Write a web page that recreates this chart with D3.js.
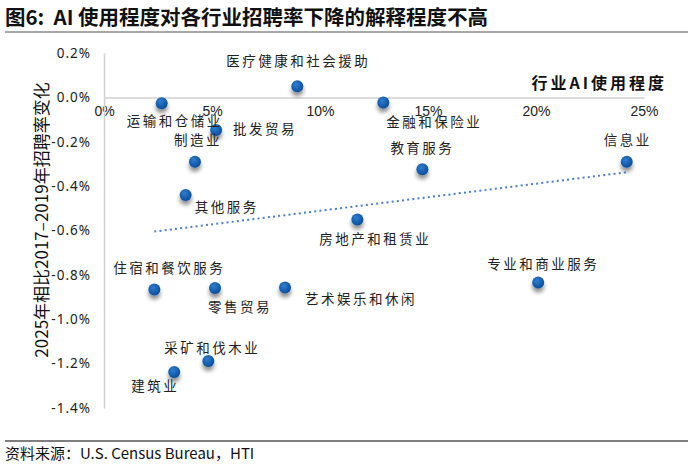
<!DOCTYPE html>
<html><head><meta charset="utf-8">
<script src="https://cdn.jsdelivr.net/npm/d3@7"></script>
<style>
body{margin:0;background:#fff;}
svg{display:block;}
</style></head>
<body>
<svg id="chart" width="692" height="466"></svg>
<script>
// ---- data ----
const industries = ["运输和仓储业","医疗健康和社会援助","金融和保险业","批发贸易","制造业","其他服务","房地产和租赁业","教育服务","信息业","专业和商业服务","住宿和餐饮服务","零售贸易","艺术娱乐和休闲","采矿和伐木业","建筑业"];
const aiUsage = [2.67, 8.95, 12.93, 5.19, 4.21, 3.78, 11.73, 14.74, 24.2, 20.1, 2.33, 5.14, 8.38, 4.83, 3.25];      // %
const hiringChange = [-0.026, 0.05, -0.023, -0.147, -0.29, -0.44, -0.55, -0.324, -0.29, -0.834, -0.866, -0.859, -0.857, -1.188, -1.238]; // %
const xTicks = [0, 5, 10, 15, 20, 25];
const yTicks = [0.2, 0.0, -0.2, -0.4, -0.6, -0.8, -1.0, -1.2, -1.4];
const title = "图6:  AI 使用程度对各行业招聘率下降的解释程度不高";
const xTitle = "行业AI使用程度";
const yTitle = "2025年相比2017–2019年招聘率变化";
const source = "资料来源：U.S. Census Bureau，HTI";

// ---- layout (label offsets relative to points) ----
const labelOffsets = [[13,17],[1,-26],[51,19],[49,-2],[3,-23],[41,11],[18,19],[0,-22],[1,-23],[5,-19],[15,-23],[25,18],[76,10],[4,-14],[-19,13]];

const svg = d3.select("#chart");
const x = d3.scaleLinear().domain([0, 25]).range([104, 644]);
const y = d3.scaleLinear().domain([0.2, -1.4]).range([53, 408]);

// title
svg.append("text").attr("x", 5).attr("y", 25).style("white-space", "pre")
  .attr("font-family", "'Noto Sans CJK SC', sans-serif").attr("font-weight", "bold")
  .attr("font-size", 20.5).attr("fill", "#111").text(title);
svg.append("line").attr("x1", 5).attr("x2", 688).attr("y1", 32).attr("y2", 32)
  .attr("stroke", "#8a8a8a").attr("stroke-width", 1.5);

// defs
const defs = svg.append("defs");
const grad = defs.append("radialGradient").attr("id", "dotg").attr("cx", "40%").attr("cy", "35%").attr("r", "65%");
grad.append("stop").attr("offset", "0%").attr("stop-color", "#2f7dd0");
grad.append("stop").attr("offset", "100%").attr("stop-color", "#0a4e9c");
const f = defs.append("filter").attr("id", "shadow").attr("x", "-100%").attr("y", "-100%").attr("width", "300%").attr("height", "300%");
f.append("feGaussianBlur").attr("in", "SourceAlpha").attr("stdDeviation", 2).attr("result", "b");
f.append("feOffset").attr("in", "b").attr("dx", 0).attr("dy", 4).attr("result", "o");
f.append("feComponentTransfer").attr("in", "o").attr("result", "o2")
  .append("feFuncA").attr("type", "linear").attr("slope", 0.45);
const m = f.append("feMerge");
m.append("feMergeNode").attr("in", "o2");
m.append("feMergeNode").attr("in", "SourceGraphic");

// axes
const xAxis = d3.axisBottom(x).tickValues(xTicks).tickSize(0).tickFormat(d => d + "%");
const gx = svg.append("g").attr("transform", `translate(0,${y(0)})`).call(xAxis);
gx.select(".domain").attr("stroke", "#d0d0d0").attr("stroke-width", 1.5);
gx.selectAll("text").attr("dy", "1.1em")
  .attr("font-family", "'Liberation Sans Narrow', 'Liberation Sans', sans-serif")
  .attr("font-size", 14).attr("fill", "#222");

const yAxis = d3.axisLeft(y).tickValues(yTicks).tickSize(0).tickPadding(13)
  .tickFormat(d => (d < 0 ? "-" : "") + Math.abs(d).toFixed(1) + "%");
const gy = svg.append("g").attr("transform", `translate(${x(0)},0)`).call(yAxis);
gy.select(".domain").attr("stroke", "#d0d0d0").attr("stroke-width", 1.5);
gy.selectAll("text").attr("font-family", "'Noto Sans', sans-serif")
  .attr("font-size", 13.5).attr("letter-spacing", 1).attr("fill", "#222");

// axis titles
svg.append("text").attr("x", 667).attr("y", 82).attr("text-anchor", "end").attr("dominant-baseline", "central")
  .attr("font-family", "'Noto Sans CJK SC', sans-serif").attr("font-weight", "bold")
  .attr("font-size", 16).attr("letter-spacing", 3).attr("fill", "#111").text(xTitle);
svg.append("text").attr("transform", "translate(40,220) rotate(-90)")
  .attr("text-anchor", "middle").attr("dominant-baseline", "central")
  .attr("font-family", "'Noto Sans CJK SC', sans-serif")
  .attr("font-size", 17).attr("fill", "#111").text(yTitle);

// data
const data = industries.map((n, i) => ({ name: n, x: aiUsage[i], y: hiringChange[i], off: labelOffsets[i] }));

// trendline (least squares)
const mx = d3.mean(data, d => d.x), my = d3.mean(data, d => d.y);
const slope = d3.sum(data, d => (d.x - mx) * (d.y - my)) / d3.sum(data, d => (d.x - mx) ** 2);
const icpt = my - slope * mx;
const [xmin, xmax] = d3.extent(data, d => d.x);
svg.append("line")
  .attr("x1", x(xmin)).attr("y1", y(icpt + slope * xmin))
  .attr("x2", x(xmax)).attr("y2", y(icpt + slope * xmax))
  .attr("stroke", "#4a7fc8").attr("stroke-width", 2).attr("stroke-dasharray", "2,3.2");

// points
svg.append("g").selectAll("circle").data(data).join("circle")
  .attr("cx", d => x(d.x)).attr("cy", d => y(d.y)).attr("r", 6)
  .attr("fill", "url(#dotg)").attr("filter", "url(#shadow)");

// labels
svg.append("g").selectAll("text").data(data).join("text")
  .attr("x", d => x(d.x) + d.off[0]).attr("y", d => y(d.y) + d.off[1])
  .attr("text-anchor", "middle").attr("dominant-baseline", "central")
  .attr("font-family", "'Noto Sans CJK SC', sans-serif")
  .attr("font-size", 13.5).attr("letter-spacing", 2.5).attr("fill", "#222")
  .text(d => d.name);

// footer
svg.append("line").attr("x1", 5).attr("x2", 688).attr("y1", 441).attr("y2", 441)
  .attr("stroke", "#555").attr("stroke-width", 1.5);
svg.append("text").attr("x", 5).attr("y", 459)
  .attr("font-family", "'Noto Sans CJK SC', sans-serif")
  .attr("font-size", 15).attr("fill", "#111").text(source);
</script>
</body></html>
